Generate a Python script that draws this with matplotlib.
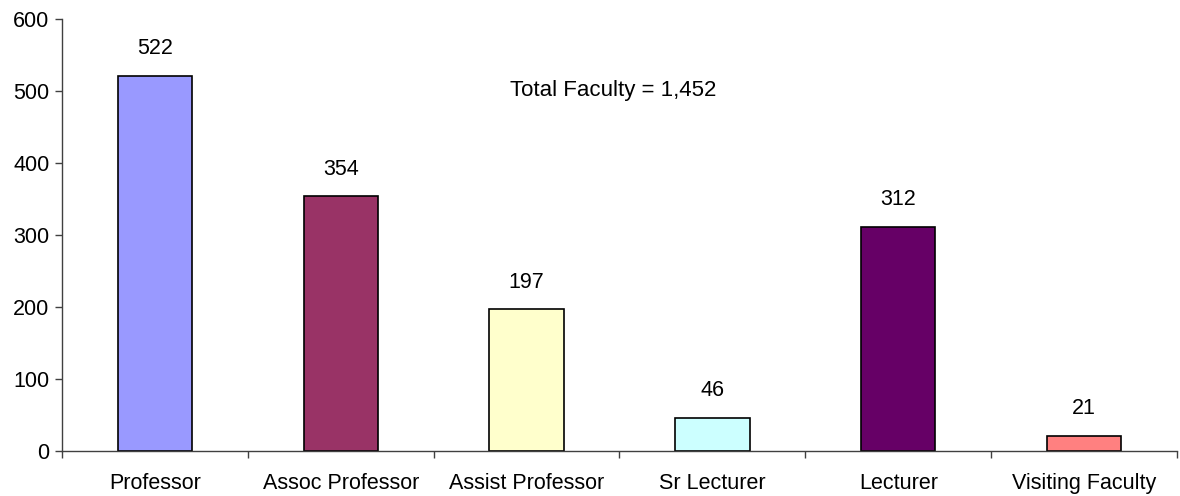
import matplotlib.pyplot as plt
import numpy as np

plt.rcParams['font.family'] = ['Liberation Sans', 'DejaVu Sans']

categories = ['Professor', 'Assoc Professor', 'Assist Professor', 'Sr Lecturer',
              'Lecturer', 'Visiting Faculty']
counts = [522, 354, 197, 46, 312, 21]
colors = ['#9999FF', '#993366', '#FFFFCC', '#CCFFFF', '#660066', '#FF8080']
total_label = 'Total Faculty = 1,452'

fig = plt.figure(figsize=(11.8, 4.96), dpi=100)
ax = fig.add_axes([0.0525, 0.0907, 0.945, 0.87])

x = np.arange(len(categories))
bars = ax.bar(x, counts, width=0.4, color=colors, edgecolor='black', linewidth=1.2)

for xi, v in zip(x, counts):
    ax.annotate(str(v), (xi, v), xytext=(0, 12), textcoords='offset points',
                ha='center', va='bottom', fontsize=15.5)

ax.text(2.466, 501, total_label, ha='center', va='center', fontsize=16)

ax.set_xlim(-0.5, len(categories) - 0.5)
ax.set_ylim(0, 600)
ax.set_yticks(range(0, 601, 100))
ax.set_xticks(x)
ax.set_xticklabels(categories)
ax.set_xticks(np.arange(-0.5, len(categories)), minor=True)
ax.tick_params(axis='x', which='major', length=0, pad=16, labelsize=15.5)
ax.tick_params(axis='x', which='minor', length=5, width=1, color='#404040', direction='out')
ax.tick_params(axis='y', length=5, width=1, color='#404040', labelsize=15.5, pad=4)

for s in ['top', 'right']:
    ax.spines[s].set_visible(False)
for s in ['left', 'bottom']:
    ax.spines[s].set_color('#404040')
    ax.spines[s].set_linewidth(1)

fig.savefig('out.png', dpi=100)
